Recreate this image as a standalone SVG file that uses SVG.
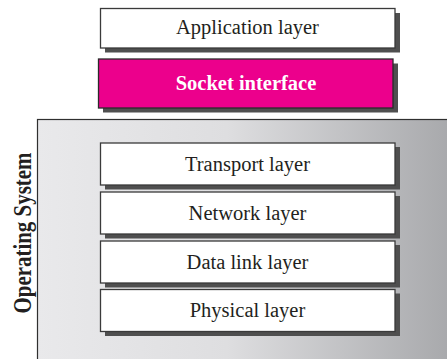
<svg xmlns="http://www.w3.org/2000/svg" width="447" height="359" viewBox="0 0 447 359">
<defs>
<linearGradient id="osgrad" x1="0" y1="0" x2="1" y2="0">
<stop offset="0" stop-color="#e9e9eb"/>
<stop offset="0.45" stop-color="#dedee0"/>
<stop offset="1" stop-color="#a6a7aa"/>
</linearGradient>
</defs>
<style>
.shadow{fill:#4f4f4f}
.box{fill:#ffffff;stroke:#3a3a3a;stroke-width:1.3}
.sock{fill:#ec008c;stroke:#2a2a2a;stroke-width:1.3}
.lbl{font-family:"Liberation Serif","Times New Roman",serif;font-size:20.5px;fill:#231f20;text-anchor:middle}
.slbl{font-family:"Liberation Serif","Times New Roman",serif;font-size:20.5px;font-weight:bold;fill:#ffffff;text-anchor:middle}
.os{font-family:"Liberation Serif","Times New Roman",serif;font-size:26px;font-weight:bold;fill:#231f20;text-anchor:middle}
</style>
<rect width="447" height="359" fill="#ffffff"/>
<g id="operating-system">
<rect x="37.5" y="119.5" width="420" height="250" fill="url(#osgrad)" stroke="#2f2f2f" stroke-width="1.2"/>
<text class="os" transform="translate(30.5,233) rotate(-90)" textLength="161" lengthAdjust="spacingAndGlyphs">Operating System</text>
</g>
<g id="application-layer">
<rect class="shadow" x="105" y="13" width="295" height="39.5"/>
<rect class="box" x="100.5" y="8.5" width="294.5" height="39.5"/>
<text class="lbl" x="247.5" y="34">Application layer</text>
</g>
<g id="socket-interface">
<rect class="shadow" x="103" y="63.5" width="295" height="49"/>
<rect class="sock" x="98.5" y="59" width="294.5" height="49"/>
<text class="slbl" x="246" y="90">Socket interface</text>
</g>
<g id="transport-layer">
<rect class="shadow" x="105" y="147" width="295" height="42.5"/>
<rect class="box" x="100.5" y="143" width="294.5" height="42"/>
<text class="lbl" x="247.5" y="170.5">Transport layer</text>
</g>
<g id="network-layer">
<rect class="shadow" x="105" y="196" width="295" height="42.5"/>
<rect class="box" x="100.5" y="192" width="294.5" height="42"/>
<text class="lbl" x="247.5" y="219.5">Network layer</text>
</g>
<g id="data-link-layer">
<rect class="shadow" x="105" y="245" width="295" height="42.5"/>
<rect class="box" x="100.5" y="241" width="294.5" height="42"/>
<text class="lbl" x="247.5" y="268.5">Data link layer</text>
</g>
<g id="physical-layer">
<rect class="shadow" x="105" y="293.5" width="295" height="42.5"/>
<rect class="box" x="100.5" y="289.5" width="294.5" height="42"/>
<text class="lbl" x="247.5" y="317">Physical layer</text>
</g>
<g id="connectors"/>
</svg>
